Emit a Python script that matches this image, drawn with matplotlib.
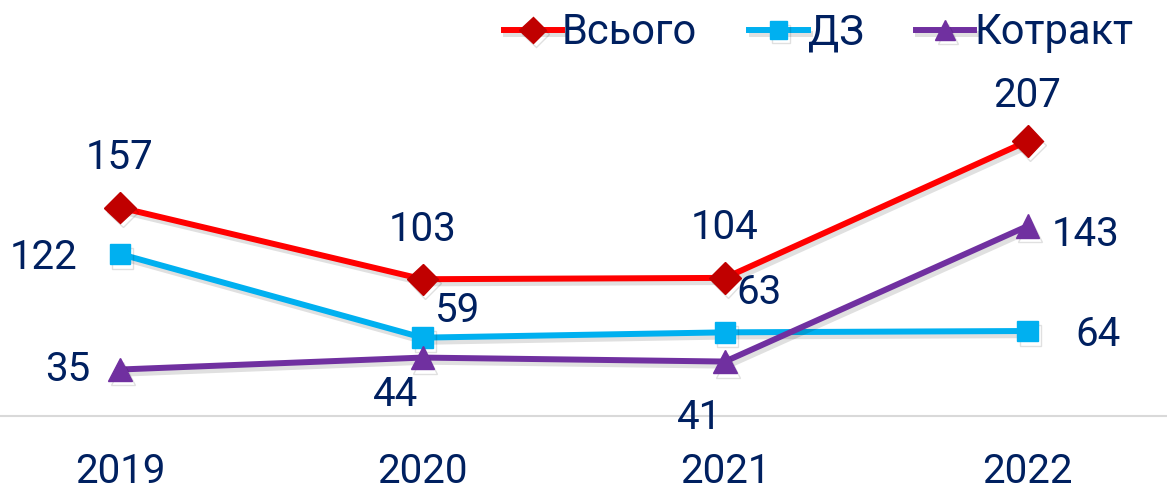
import matplotlib
matplotlib.use("Agg")
import matplotlib.pyplot as plt
import matplotlib.patheffects as pe

years = ["2019", "2020", "2021", "2022"]
vsogo = [157, 103, 104, 207]
dz = [122, 59, 63, 64]
kontrakt = [35, 44, 41, 143]

# label offsets in pixels from each point
off_vsogo = [(0, 50), (0, 50), (0, 50), (0, 46)]
off_dz = [(-76, -4), (35, 27), (34, 40), (70, -3)]
off_kontrakt = [(-52, 0), (-27, -37), (-26, -56), (58, -8)]

txt = "#002060"
plt.rcParams['font.family'] = ['Roboto', 'DejaVu Sans']

fig = plt.figure(figsize=(11.67, 5.01), dpi=100)
ax = fig.add_axes([0, 85 / 501, 1, 332 / 501])

x = list(range(len(years)))
shadow = [pe.SimpleLineShadow(offset=(2, -3), alpha=0.12, shadow_color='black'), pe.Normal()]

series = [
    (vsogo, "Всього", "#FF0000", "#C00000", "D", 16, off_vsogo),
    (dz, "ДЗ", "#00B0F0", "#00B0F0", "s", 15, off_dz),
    (kontrakt, "Котракт", "#7030A0", "#7030A0", "^", 17, off_kontrakt),
]
for vals, name, lc, mc, mk, ms, offs in series:
    ax.plot(x, vals, color=lc, lw=4.3, marker=mk, ms=ms, mfc=mc, mec=mc,
            label=name, path_effects=shadow, zorder=3)
    for xi, v, o in zip(x, vals, offs):
        ax.annotate(str(v), (xi, v), xytext=o, textcoords='offset pixels',
                    ha='center', va='center', fontsize=29, color=txt, zorder=4)

ax.set_xlim(-120 / 302.5, (1167 - 120) / 302.5)
ax.set_ylim(0, 250)
ax.set_xticks(x)
ax.set_xticklabels(years, fontsize=29, color=txt)
ax.tick_params(axis='x', length=0, pad=26)
ax.set_yticks([])
for s in ['top', 'left', 'right']:
    ax.spines[s].set_visible(False)
ax.spines['bottom'].set_color('#D9D9D9')
ax.spines['bottom'].set_linewidth(1.5)
ax.patch.set_alpha(0)

leg = fig.legend(loc='upper right', bbox_to_anchor=(1.003, 1.05), ncol=3, frameon=False,
                 fontsize=30, handlelength=1.4, handletextpad=0.0, columnspacing=1.25,
                 labelcolor=txt, markerscale=0.85)

fig.savefig("out.png", dpi=100)
